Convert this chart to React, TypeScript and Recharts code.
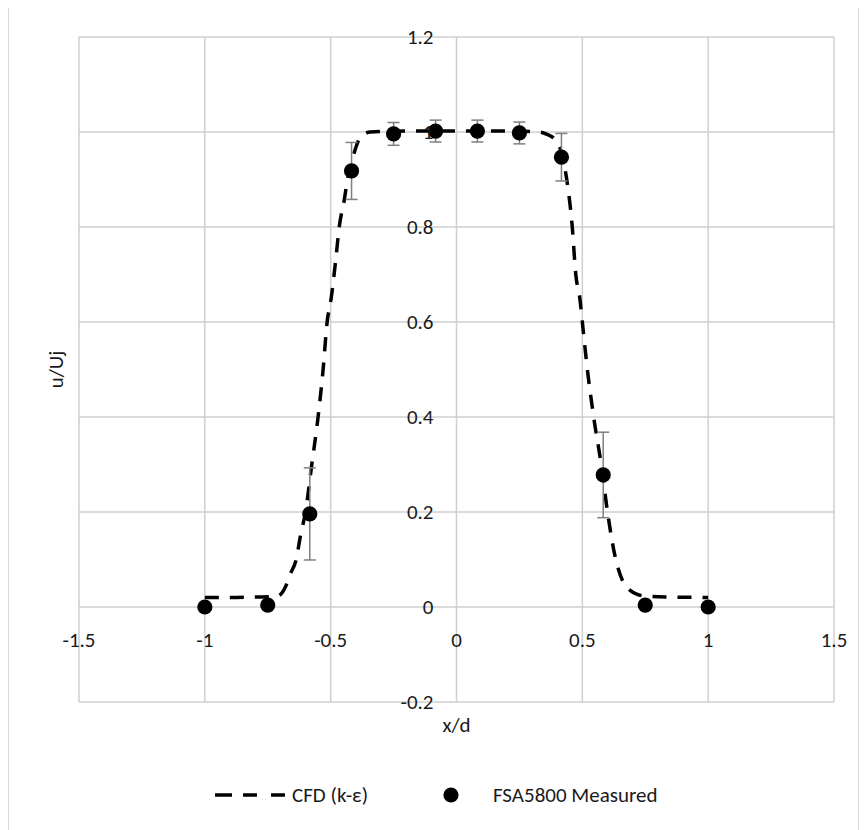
import React from 'react';
import {
  ComposedChart,
  Line,
  Scatter,
  ErrorBar,
  XAxis,
  YAxis,
  CartesianGrid,
  ReferenceDot,
} from 'recharts';

// ---- data ----
const cfdX = [
  -1, -0.9, -0.8, -0.72, -0.7, -0.68, -0.66, -0.637, -0.62, -0.6, -0.575, -0.55, -0.53, -0.514,
  -0.498, -0.48, -0.466, -0.446, -0.43, -0.41, -0.387, -0.365, -0.343, -0.2, 0, 0.2, 0.33, 0.36,
  0.39, 0.415, 0.438, 0.46, 0.474, 0.49, 0.5, 0.52, 0.545, 0.575, 0.6, 0.63, 0.66, 0.69, 0.716,
  0.75, 0.85, 1.0,
];
const cfdY = [
  0.02, 0.02, 0.021, 0.022, 0.026, 0.042, 0.07, 0.1, 0.15, 0.2, 0.3, 0.4, 0.5, 0.6,
  0.65, 0.73, 0.8, 0.857, 0.91, 0.95, 0.985, 0.996, 1.0, 1.002, 1.002, 1.002, 1.0, 0.995,
  0.985, 0.96, 0.9, 0.8, 0.7, 0.65, 0.6, 0.5, 0.4, 0.3, 0.2, 0.107, 0.055, 0.035, 0.027,
  0.023, 0.021, 0.02,
];

const measuredX = [-1, -0.75, -0.583, -0.417, -0.25, -0.083, 0.083, 0.25, 0.417, 0.583, 0.75, 1];
const measuredY = [0, 0.004, 0.196, 0.918, 0.996, 1.002, 1.002, 0.998, 0.947, 0.278, 0.004, 0];
const measuredErr = [0, 0, 0.097, 0.06, 0.024, 0.023, 0.023, 0.023, 0.05, 0.09, 0, 0];

const xTicks = [-1.5, -1, -0.5, 0, 0.5, 1, 1.5];
const yTicks = [-0.2, 0, 0.2, 0.4, 0.6, 0.8, 1, 1.2];
const xTickLabels = ['-1.5', '-1', '-0.5', '0', '0.5', '1', '1.5'];
const yTickLabels = ['-0.2', '0', '0.2', '0.4', '0.6', '0.8', '1', '1.2'];

const seriesNames = ['CFD (k-\u03b5)', 'FSA5800 Measured'];
const xTitle = 'x/d';
const yTitle = 'u/Uj';

const cfdData = cfdX.map((x, i) => ({ x, y: cfdY[i] }));
const measuredData = measuredX.map((x, i) => ({ x, y: measuredY[i], err: measuredErr[i] }));

const FONT = 'Carlito, Calibri, Lato, sans-serif';
const FS = 21;
const TEXT = '#1a1a1a';
const GRID = '#cfcfcf';

const EmptyTick = () => <g />;

const MeasuredDot = (props: any) => {
  const { cx, cy } = props;
  if (cx == null || cy == null) return null;
  return <circle cx={cx} cy={cy} r={7.6} fill="#000" />;
};

export default function App() {
  return (
    <div
      style={{
        position: 'relative',
        width: 849,
        height: 830,
        border: '1px solid #d9d9d9',
        marginTop: -1,
        background: '#fff',
        fontFamily: FONT,
      }}
    >
      <ComposedChart
        width={849}
        height={820}
        margin={{ top: 29, right: 24, bottom: 86, left: 24 }}
      >
        <CartesianGrid stroke={GRID} strokeWidth={1.5} />
        <XAxis
          type="number"
          dataKey="x"
          domain={[-1.5, 1.5]}
          ticks={xTicks}
          tick={EmptyTick}
          axisLine={false}
          tickLine={false}
          height={40}
          allowDataOverflow
          label={{
            value: xTitle,
            position: 'insideTop',
            offset: 15,
            fill: TEXT,
            fontSize: FS,
            fontFamily: FONT,
          }}
        />
        <YAxis
          type="number"
          domain={[-0.2, 1.2]}
          ticks={yTicks}
          tick={EmptyTick}
          axisLine={false}
          tickLine={false}
          width={46}
          allowDataOverflow
          label={{
            value: yTitle,
            position: 'center',
            angle: -90,
            fill: TEXT,
            fontSize: FS,
            fontFamily: FONT,
          }}
        />
        <Line
          data={cfdData}
          dataKey="y"
          type="monotone"
          stroke="#000"
          strokeWidth={3.5}
          strokeDasharray="14 11"
          dot={false}
          activeDot={false}
          isAnimationActive={false}
        />
        <Scatter
          data={measuredData}
          dataKey="y"
          shape={<MeasuredDot />}
          isAnimationActive={false}
        >
          <ErrorBar dataKey="err" direction="y" width={6} stroke="#7f7f7f" strokeWidth={1.5} isAnimationActive={false} />
        </Scatter>
        {yTicks.map((v, i) => (
          <ReferenceDot
            key={'y' + i}
            x={0}
            y={v}
            r={0}
            fill="none"
            stroke="none"
            label={{
              value: yTickLabels[i],
              position: 'left',
              offset: 23,
              fill: TEXT,
              fontSize: FS,
              fontFamily: FONT,
            }}
          />
        ))}
        {xTicks.map((v, i) => (
          <ReferenceDot
            key={'x' + i}
            x={v}
            y={0}
            r={0}
            fill="none"
            stroke="none"
            label={{
              value: xTickLabels[i],
              position: 'bottom',
              offset: 25,
              fill: TEXT,
              fontSize: FS,
              fontFamily: FONT,
            }}
          />
        ))}
      </ComposedChart>
      <div
        style={{
          position: 'absolute',
          left: 0,
          top: 774,
          width: 849,
          height: 26,
          fontSize: FS,
          color: TEXT,
          fontFamily: FONT,
        }}
      >
        <svg width={70} height={26} style={{ position: 'absolute', left: 206, top: 0 }}>
          <line x1={0} y1={13} x2={70} y2={13} stroke="#000" strokeWidth={3.5} strokeDasharray="17 11 14 14" />
        </svg>
        <span style={{ position: 'absolute', left: 283, top: 0, lineHeight: '26px', whiteSpace: 'nowrap' }}>
          {seriesNames[0]}
        </span>
        <svg width={70} height={26} style={{ position: 'absolute', left: 407, top: 0 }}>
          <circle cx={35} cy={13} r={7.6} fill="#000" />
        </svg>
        <span style={{ position: 'absolute', left: 484, top: 0, lineHeight: '26px', whiteSpace: 'nowrap' }}>
          {seriesNames[1]}
        </span>
      </div>
    </div>
  );
}
